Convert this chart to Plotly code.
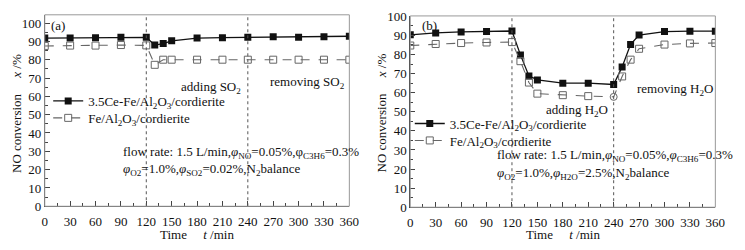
import plotly.graph_objects as go

# ---------------- data ----------------
time_a = [0, 30, 60, 90, 120, 130, 140, 150, 180, 210, 240, 270, 300, 330, 360]
ce_a = [91.8, 91.8, 92.0, 92.2, 92.2, 88.0, 88.8, 90.3, 91.8, 92.0, 92.2, 92.5, 92.3, 92.5, 92.8]
fe_a = [87.5, 87.7, 87.7, 88.0, 87.8, 77.2, 80.0, 80.0, 80.0, 80.0, 80.0, 80.0, 80.0, 80.0, 80.0]

time_b = [0, 30, 60, 90, 120, 130, 140, 150, 180, 210, 240, 250, 260, 270, 300, 330, 360]
ce_b = [90.3, 91.3, 91.8, 92.0, 92.3, 79.8, 68.8, 66.7, 65.0, 65.0, 64.3, 73.5, 85.3, 90.2, 92.0, 92.2, 92.2]
fe_b = [84.7, 85.5, 86.0, 86.3, 86.5, 76.5, 65.3, 59.5, 58.7, 58.2, 57.8, 68.5, 77.3, 83.0, 85.2, 85.8, 86.0]

name_ce = "3.5Ce-Fe/Al<sub>2</sub>O<sub>3</sub>/cordierite"
name_fe = "Fe/Al<sub>2</sub>O<sub>3</sub>/cordierite"

x_ticks = list(range(0, 361, 30))
y_ticks = list(range(0, 101, 10))

FONT = "Liberation Serif, Times New Roman, serif"
W, H = 745, 250

fig = go.Figure()

fe_symbols_b = ["square-open"] * len(time_b)
fe_symbols_b[time_b.index(240)] = "circle-open"

# panel (a)
fig.add_trace(go.Scatter(x=time_a, y=ce_a, mode="lines+markers", name=name_ce, showlegend=True,
                         line=dict(color="#111", width=1.3),
                         marker=dict(symbol="square", size=7, color="#111"),
                         xaxis="x", yaxis="y", legend="legend"))
fig.add_trace(go.Scatter(x=time_a, y=fe_a, mode="lines+markers", name=name_fe, showlegend=True,
                         line=dict(color="#666", width=1.1, dash="dash"),
                         marker=dict(symbol="square-open", size=7, color="#666", line=dict(width=1)),
                         xaxis="x", yaxis="y", legend="legend2"))
# panel (b)
fig.add_trace(go.Scatter(x=time_b, y=ce_b, mode="lines+markers", name=name_ce, showlegend=True,
                         line=dict(color="#111", width=1.3),
                         marker=dict(symbol="square", size=7, color="#111"),
                         xaxis="x2", yaxis="y2", legend="legend3"))
fig.add_trace(go.Scatter(x=time_b, y=fe_b, mode="lines+markers", name=name_fe, showlegend=True,
                         line=dict(color="#666", width=1.1, dash="dash"),
                         marker=dict(symbol=fe_symbols_b, size=7, color="#666", line=dict(width=1)),
                         xaxis="x2", yaxis="y2", legend="legend4"))

def px_x(p):
    return p / W

def px_y(p):
    return 1 - p / H

axis_common = dict(
    showgrid=False, zeroline=False, showline=True, linecolor="#444", linewidth=1,
    ticks="inside", ticklen=5, tickcolor="#444", tickwidth=1,
    tickfont=dict(family=FONT, size=13, color="#111"),
    minor=dict(ticks="inside", ticklen=3, tickcolor="#444", tickwidth=1),
)

xa = dict(axis_common, range=[0, 360], tickvals=x_ticks, ticklabelstandoff=3,
          minor=dict(axis_common["minor"], dtick=15))
ya = dict(axis_common, tickvals=y_ticks, minor=dict(axis_common["minor"], dtick=5))

def leg(xp, yp):
    return dict(x=px_x(xp), y=px_y(yp), xanchor="left", yanchor="middle",
                bgcolor="rgba(0,0,0,0)", font=dict(family=FONT, size=13, color="#111"),
                itemwidth=30, borderwidth=0, visible=True)

fig.update_layout(
    width=W, height=H,
    showlegend=True,
    margin=dict(l=0, r=0, t=0, b=0),
    paper_bgcolor="white", plot_bgcolor="white",
    font=dict(family=FONT, size=13, color="#111"),
    xaxis=dict(xa, domain=[px_x(42.5), px_x(352.5)], anchor="y"),
    yaxis=dict(ya, domain=[px_y(212), px_y(8.3)], range=[0, 104.5], anchor="x"),
    xaxis2=dict(xa, domain=[px_x(414.5), px_x(725)], anchor="y2"),
    yaxis2=dict(ya, domain=[px_y(213), px_y(9.5)], range=[0, 100.2], anchor="x2"),
    legend=leg(46, 100),
    legend2=leg(46, 118),
    legend3=leg(414, 124),
    legend4=leg(414, 142),
)

shapes = []
for xr, yr in (("x", "y"), ("x2", "y2")):
    for xv in (120, 240):
        shapes.append(dict(type="line", xref=xr, yref=yr + " domain", x0=xv, x1=xv, y0=0, y1=1,
                           line=dict(color="#555", width=1, dash="dot")))
    shapes.append(dict(type="rect", xref=xr + " domain", yref=yr + " domain", x0=0, x1=1, y0=0, y1=1,
                       line=dict(color="#999", width=1)))
fig.update_layout(shapes=shapes)

ann = []
def A(text, x, y, xref, yref, xanchor="center", **kw):
    d = dict(text=text, x=x, y=y, xref=xref, yref=yref, showarrow=False,
             xanchor=xanchor, yanchor="middle",
             font=dict(family=FONT, size=13, color="#111"))
    d.update(kw)
    ann.append(d)

# panel labels & text
A("(a)", 5, 98.5, "x", "y", xanchor="left")
A("adding SO<sub>2</sub>", 197, 65, "x", "y")
A("removing SO<sub>2</sub>", 310, 67.7, "x", "y")
A("flow rate: 1.5 L/min,<i>φ</i><sub>NO</sub>=0.05%,φ<sub>C3H6</sub>=0.3%", 90, 29.2, "x", "y", xanchor="left")
A("<i>φ</i><sub>O2</sub>=1.0%,<i>φ</i><sub>SO2</sub>=0.02%,N<sub>2</sub>balance", 90, 20, "x", "y", xanchor="left")

A("(b)", 11, 95, "x2", "y2", xanchor="left")
A("adding H<sub>2</sub>O", 197, 50.7, "x2", "y2")
A("removing H<sub>2</sub>O", 312, 61.6, "x2", "y2")
A("flow rate: 1.5 L/min,<i>φ</i><sub>NO</sub>=0.05%,<i>φ</i><sub>C3H6</sub>=0.3%", 99.5, 27, "x2", "y2", xanchor="left")
A("<i>φ</i><sub>O2</sub>=1.0%,<i>φ</i><sub>H2O</sub>=2.5%,N<sub>2</sub>balance", 99.5, 17.7, "x2", "y2", xanchor="left")

# axis titles
A("Time     <i>t</i> /min", px_x(197), px_y(242), "paper", "paper")
A("Time     <i>t</i> /min", px_x(570), px_y(242), "paper", "paper")
A("NO conversion     <i>x</i> /%", px_x(13), px_y(113), "paper", "paper", textangle=-90)
A("NO conversion     <i>x</i> /%", px_x(385), px_y(113), "paper", "paper", textangle=-90)

fig.update_layout(annotations=ann)

fig.write_html("out.html", config={"displayModeBar": False},
               post_script="document.body.style.margin='0';document.body.style.overflow='hidden';")
